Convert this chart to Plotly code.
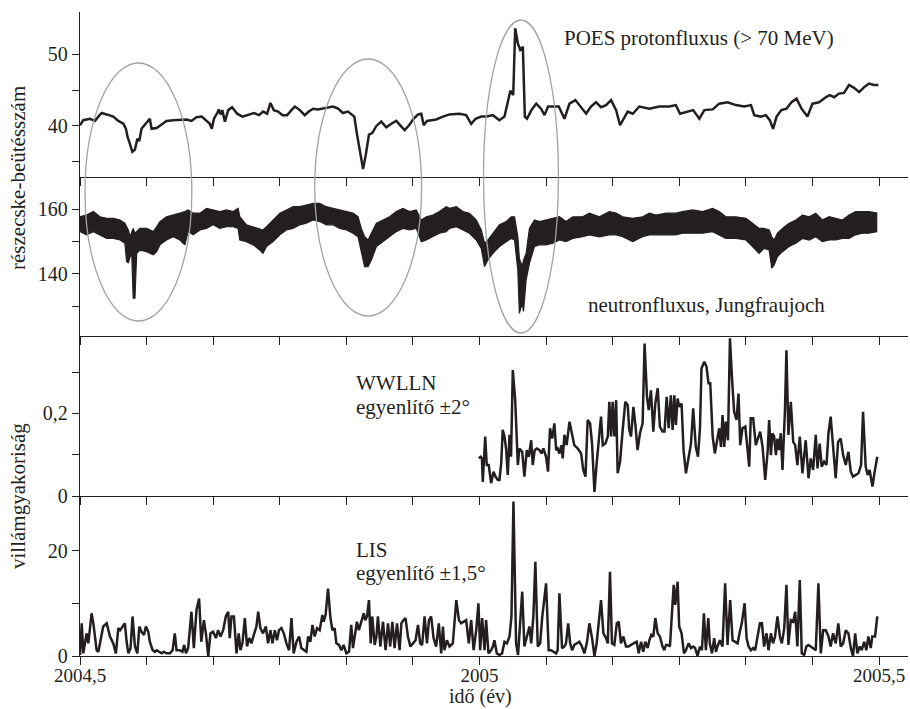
import plotly.graph_objects as go

# ---------------- data (days since 2004.5; values in panel units) ----------------
poes_day = [0, 1.5, 4.6, 6.8, 8.4, 9.9, 12.2, 15.2, 17.5, 19.8,
            21.0, 21.7, 22.8, 23.9, 25.1, 26.2, 27.1, 28.1, 29.7, 31.9,
            32.7, 35.0, 37.3, 39.5, 42.6, 45.6, 48.7, 50.9, 53.2, 55.6,
            57.8, 59.3, 60.2, 61.2, 62.7, 63.4, 64.2, 65.0, 66.2, 67.7,
            69.5, 71.8, 74.2, 76.8, 79.4, 81.8, 83.6, 85.5, 87.0, 88.5,
            90.5, 92.5, 94.6, 96.9, 98.2, 100.4, 102.7, 104.5, 106.5, 108.7,
            111.0, 113.3, 115.6, 117.9, 120.1, 122.4, 124.4, 125.3, 126.5, 128.1,
            129.3, 130.5, 132.0, 133.5, 135.4, 137.6, 139.9, 142.2, 144.5, 146.5,
            148.3, 150.3, 152.4, 154.4, 155.9, 157.0, 158.5, 160.5, 162.7, 165.8,
            168.8, 173.4, 176.4, 178.7, 180.7, 183.3, 185.8, 188.6, 191.6, 193.9,
            195.4, 196.6, 197.9, 198.8, 200.0, 201.1, 202.3, 203.2, 204.2, 206.2,
            208.4, 210.6, 212.2, 213.8, 216.3, 218.7, 221.3, 223.6, 226.3, 228.9,
            231.2, 233.4, 235.7, 238.0, 240.3, 242.6, 244.9, 246.7, 248.2, 250.2,
            252.5, 255.5, 260.1, 264.6, 269.2, 272.2, 274.1, 277.1, 280.1, 282.9,
            285.2, 289.0, 292.0, 295.8, 299.6, 303.4, 306.5, 308.0, 311.0, 313.3,
            315.1, 316.6, 318.2, 320.4, 322.7, 325.0, 327.3, 329.6, 332.3, 334.6,
            337.6, 340.7, 342.5, 344.5, 346.7, 349.0, 351.3, 353.6, 355.9, 358.2,
            360.4, 362.7, 364.7]
poes_val = [40.1, 40.8, 41.0, 40.7, 41.3, 41.8, 41.6, 41.3, 40.7, 40.3,
            39.6, 38.5, 37.5, 36.4, 36.7, 38.2, 37.9, 39.6, 40.2, 41.0,
            39.6, 39.7, 40.2, 40.7, 40.8, 40.9, 40.9, 40.7, 41.2, 41.3,
            40.7, 40.3, 39.6, 41.0, 41.8, 42.3, 41.6, 42.2, 40.6, 42.2,
            42.6, 41.7, 41.3, 41.6, 41.8, 41.5, 42.0, 41.7, 43.2, 42.2,
            42.0, 41.5, 41.5, 42.3, 42.7, 42.2, 41.5, 42.0, 42.4, 42.3,
            42.4, 42.6, 42.7, 42.4, 41.8, 42.0, 41.5, 41.3, 38.9, 36.4,
            34.0, 35.9, 38.8, 39.0, 40.0, 40.6, 39.8, 40.3, 40.7, 40.0,
            39.4, 40.1, 41.0, 41.6, 41.7, 40.1, 40.7, 40.8, 40.9, 41.3,
            41.6, 41.7, 41.5, 40.3, 41.0, 41.3, 41.3, 41.5, 40.8, 41.3,
            43.6, 44.9, 44.3, 53.6, 51.5, 50.6, 51.0, 41.3, 41.0, 42.2,
            43.1, 42.4, 41.5, 42.7, 42.7, 42.7, 41.0, 43.1, 43.6, 42.6,
            41.7, 42.7, 43.3, 42.6, 42.9, 43.6, 42.2, 40.1, 41.0, 42.0,
            41.7, 42.7, 42.4, 42.7, 42.7, 42.9, 41.7, 42.0, 42.2, 41.0,
            42.2, 42.3, 43.1, 43.3, 42.9, 42.7, 42.9, 41.5, 41.3, 41.5,
            40.8, 39.6, 41.3, 42.2, 42.4, 43.3, 43.8, 42.4, 41.3, 43.1,
            43.3, 44.0, 44.3, 44.0, 44.5, 44.6, 45.7, 45.3, 44.7, 45.4,
            45.9, 45.7, 45.7]

neut_day = [0.0, 3.0, 6.1, 9.1, 12.2, 15.2, 18.3, 20.5, 21.3, 22.1,
            22.8, 23.6, 24.3, 25.1, 25.9, 27.4, 30.4, 33.5, 35.0, 36.5,
            39.5, 42.6, 45.6, 47.9, 49.4, 51.7, 54.8, 57.8, 60.8, 63.9,
            66.9, 70.0, 72.2, 73.0, 76.0, 79.1, 82.1, 83.6, 85.2, 88.2,
            91.3, 94.3, 97.3, 100.4, 103.4, 106.5, 109.5, 112.5, 115.6, 118.6,
            121.7, 124.7, 127.0, 128.5, 130.0, 131.6, 133.1, 135.4, 138.4, 141.4,
            144.5, 147.5, 150.6, 153.6, 155.9, 158.2, 161.2, 164.2, 167.3, 168.8,
            171.9, 174.9, 177.9, 181.0, 183.3, 184.8, 186.3, 188.6, 191.6, 194.7,
            197.0, 198.5, 200.0, 200.7, 202.0, 202.6, 203.8, 205.3, 207.6, 209.9,
            212.9, 216.0, 219.0, 222.0, 225.1, 229.6, 232.7, 237.2, 241.8, 244.9,
            247.9, 252.5, 257.0, 260.1, 263.1, 267.7, 272.2, 275.3, 279.8, 284.4,
            289.0, 292.0, 295.0, 299.6, 304.2, 307.2, 310.2, 312.5, 314.8, 316.0,
            317.1, 318.6, 320.9, 323.9, 327.0, 330.0, 333.1, 336.1, 339.1, 342.2,
            345.2, 348.3, 351.3, 354.3, 357.4, 360.4, 364.2]
neut_upper = [157.7, 158.2, 159.3, 157.7, 157.2, 157.2, 156.7, 155.7, 154.6, 153.6,
              151.5, 153.1, 154.1, 152.6, 153.1, 154.1, 154.1, 153.1, 154.6, 156.2,
              157.7, 158.2, 158.8, 159.3, 159.8, 158.8, 158.8, 160.3, 159.8, 159.3,
              159.8, 159.3, 160.3, 157.7, 155.2, 154.6, 154.1, 153.6, 154.6, 156.7,
              158.8, 159.8, 160.8, 160.8, 161.3, 161.8, 161.8, 160.8, 160.3, 159.8,
              159.3, 158.8, 157.7, 154.1, 151.5, 150.5, 152.6, 155.7, 156.7, 157.7,
              159.3, 160.3, 159.3, 159.8, 156.7, 157.7, 158.2, 159.3, 160.8, 160.3,
              160.8, 159.3, 158.8, 156.7, 153.6, 149.5, 150.5, 152.6, 155.2, 156.2,
              157.7, 157.7, 151.5, 144.8, 142.3, 144.3, 146.4, 154.1, 156.7, 156.2,
              156.7, 157.2, 157.7, 156.2, 157.7, 157.7, 158.8, 157.7, 159.3, 158.8,
              157.7, 157.2, 157.7, 158.8, 158.2, 158.8, 158.8, 159.3, 159.8, 159.3,
              160.3, 159.3, 157.7, 157.7, 157.2, 155.7, 154.1, 154.1, 153.6, 151.5,
              150.5, 152.6, 154.1, 155.7, 156.7, 158.2, 157.7, 158.8, 156.7, 157.7,
              157.2, 156.7, 158.2, 159.3, 159.3, 159.3, 158.8]
neut_lower = [153.1, 152.1, 153.1, 152.1, 151.0, 151.0, 150.5, 149.5, 143.8, 143.5,
              145.4, 146.9, 132.5, 132.5, 146.4, 147.4, 146.9, 145.9, 146.9, 149.0,
              150.5, 151.5, 150.5, 149.0, 153.1, 152.1, 153.6, 154.1, 155.2, 154.1,
              154.6, 154.6, 154.1, 150.5, 150.0, 149.0, 147.4, 146.4, 148.5, 150.0,
              152.1, 153.6, 154.1, 155.2, 155.7, 156.7, 156.2, 155.2, 155.2, 154.1,
              153.6, 152.6, 151.5, 146.9, 142.3, 142.3, 144.3, 148.5, 150.0, 151.5,
              153.1, 154.1, 153.6, 154.1, 150.0, 150.5, 151.5, 152.6, 153.1, 154.1,
              154.6, 153.6, 152.6, 150.5, 147.9, 142.3, 144.3, 146.4, 148.5, 150.0,
              151.0, 150.5, 141.2, 127.8, 130.9, 128.4, 138.2, 143.3, 148.5, 149.0,
              149.0, 149.5, 150.5, 150.0, 151.0, 151.5, 152.1, 151.5, 152.1, 152.1,
              151.5, 150.0, 151.5, 152.1, 152.1, 152.1, 152.1, 152.6, 152.6, 152.6,
              153.1, 152.1, 151.0, 151.0, 150.5, 148.5, 146.4, 147.9, 147.4, 141.8,
              142.8, 145.4, 146.9, 148.5, 149.5, 151.0, 150.5, 151.5, 150.0, 150.5,
              150.5, 151.0, 151.0, 152.1, 152.6, 152.6, 153.1]

wwlln_day = [182.2, 183.0, 183.6, 184.0, 185.1, 185.8, 186.7, 187.8, 188.9, 189.8,
             190.9, 191.6, 192.4, 193.1, 193.9, 194.7, 195.4, 196.2, 196.9, 197.7,
             198.8, 200.0, 200.7, 202.0, 203.0, 204.1, 205.0, 206.1, 206.8, 207.7,
             208.7, 209.9, 210.8, 211.7, 212.9, 213.8, 214.7, 215.7, 216.7, 217.5,
             218.2, 219.0, 219.9, 220.5, 221.3, 222.3, 223.6, 224.8, 225.8, 227.4,
             228.9, 229.9, 230.9, 231.9, 233.0, 233.9, 235.0, 236.0, 236.9, 238.0,
             238.8, 240.0, 241.1, 241.8, 242.6, 243.3, 244.1, 244.9, 245.6, 246.7,
             247.9, 249.1, 250.2, 250.9, 251.7, 252.8, 253.7, 254.7, 255.8, 257.0,
             257.9, 259.0, 259.8, 260.8, 261.9, 262.8, 263.9, 264.9, 266.1, 267.0,
             268.0, 268.9, 269.9, 270.7, 271.5, 272.2, 273.0, 273.7, 274.8, 275.7,
             276.8, 277.9, 279.1, 280.1, 281.3, 282.3, 283.2, 283.9, 285.2, 286.2,
             287.1, 287.9, 289.0, 290.0, 290.9, 292.0, 292.8, 293.5, 294.3, 295.0,
             296.0, 296.9, 297.8, 298.8, 299.9, 300.8, 301.6, 302.6, 303.9, 304.9,
             305.7, 306.4, 307.5, 308.7, 309.8, 310.7, 311.8, 313.0, 314.1, 314.8,
             315.6, 316.3, 317.1, 317.9, 318.6, 319.4, 320.1, 320.9, 322.0, 322.7,
             323.6, 324.7, 325.8, 326.7, 327.7, 328.8, 330.0, 330.8, 331.5, 332.8,
             333.8, 334.9, 336.1, 336.9, 337.9, 338.8, 339.9, 341.0, 341.9, 342.9,
             344.0, 345.2, 346.3, 347.5, 348.6, 349.8, 351.0, 352.1, 353.1, 354.3,
             355.6, 356.8, 357.7, 358.9, 359.8, 360.7, 362.0, 363.0, 364.2]
wwlln_val = [0.091, 0.095, 0.091, 0.034, 0.144, 0.075, 0.075, 0.031, 0.059, 0.047,
             0.039, 0.039, 0.079, 0.160, 0.144, 0.111, 0.051, 0.148, 0.095, 0.305,
             0.232, 0.075, 0.115, 0.107, 0.047, 0.111, 0.095, 0.135, 0.075, 0.111,
             0.115, 0.111, 0.103, 0.115, 0.095, 0.059, 0.164, 0.139, 0.176, 0.111,
             0.115, 0.103, 0.123, 0.091, 0.148, 0.123, 0.180, 0.144, 0.123, 0.115,
             0.103, 0.063, 0.047, 0.184, 0.176, 0.127, 0.010, 0.079, 0.135, 0.192,
             0.123, 0.127, 0.144, 0.228, 0.144, 0.228, 0.144, 0.232, 0.055, 0.083,
             0.160, 0.228, 0.220, 0.160, 0.144, 0.216, 0.172, 0.111, 0.152, 0.176,
             0.369, 0.240, 0.208, 0.256, 0.156, 0.224, 0.261, 0.168, 0.156, 0.156,
             0.240, 0.164, 0.244, 0.160, 0.244, 0.172, 0.236, 0.216, 0.224, 0.111,
             0.055, 0.095, 0.127, 0.212, 0.119, 0.095, 0.164, 0.309, 0.325, 0.313,
             0.273, 0.273, 0.144, 0.103, 0.135, 0.164, 0.119, 0.196, 0.119, 0.180,
             0.135, 0.382, 0.289, 0.204, 0.184, 0.248, 0.123, 0.164, 0.168, 0.107,
             0.071, 0.188, 0.188, 0.123, 0.144, 0.156, 0.119, 0.039, 0.107, 0.184,
             0.099, 0.152, 0.144, 0.099, 0.139, 0.111, 0.152, 0.063, 0.204, 0.353,
             0.148, 0.228, 0.131, 0.123, 0.075, 0.144, 0.055, 0.095, 0.135, 0.043,
             0.091, 0.063, 0.148, 0.067, 0.127, 0.071, 0.083, 0.075, 0.152, 0.192,
             0.127, 0.043, 0.131, 0.139, 0.099, 0.075, 0.107, 0.059, 0.047, 0.051,
             0.055, 0.075, 0.204, 0.071, 0.051, 0.063, 0.023, 0.059, 0.095]

lis_day = [0.0, 0.8, 1.5, 2.3, 3.0, 3.8, 4.6, 5.3, 6.1, 6.8,
           7.6, 8.4, 9.1, 10.6, 12.2, 13.7, 15.2, 16.4, 17.5, 18.3,
           19.5, 20.5, 21.3, 22.1, 23.1, 24.0, 25.1, 26.2, 27.1, 28.1,
           29.2, 30.1, 31.2, 31.9, 33.2, 34.2, 35.0, 36.2, 37.3, 38.3,
           39.5, 41.1, 42.3, 43.3, 44.1, 45.6, 46.8, 47.6, 48.4, 49.4,
           50.9, 52.0, 53.2, 54.4, 55.4, 56.6, 57.5, 58.6, 59.6, 60.8,
           62.1, 63.1, 64.2, 65.4, 66.6, 67.7, 68.4, 69.2, 70.3, 71.5,
           72.5, 73.3, 74.2, 75.3, 76.3, 77.3, 78.3, 79.4, 80.6, 81.4,
           82.4, 83.6, 84.9, 85.9, 87.0, 87.9, 89.0, 90.0, 90.9, 92.0,
           93.1, 94.3, 95.5, 96.6, 97.6, 98.9, 100.1, 101.1, 102.2, 103.4,
           104.2, 105.2, 106.2, 107.2, 108.3, 109.5, 110.7, 111.3, 112.2, 113.3,
           114.4, 115.3, 116.3, 117.1, 118.3, 119.4, 120.4, 121.7, 122.9, 123.9,
           124.7, 125.5, 126.5, 127.4, 128.5, 129.6, 130.3, 131.1, 132.0, 132.8,
           133.5, 134.6, 135.4, 136.1, 137.2, 138.4, 139.6, 140.7, 141.7, 142.7,
           143.7, 144.8, 146.0, 146.8, 147.8, 148.7, 149.8, 150.9, 152.1, 153.3,
           154.4, 155.4, 156.3, 157.4, 158.5, 159.4, 160.4, 161.5, 162.7, 163.9,
           165.0, 165.8, 166.5, 167.6,
           168.8, 170.3, 171.9, 173.1, 174.1, 175.2, 176.4, 177.6, 178.7, 179.8,
           181.0, 182.0, 182.8, 183.7, 184.8, 185.5, 186.6, 187.8, 188.6, 189.3,
           190.4, 191.6, 192.8, 193.9, 195.0, 196.2, 197.1, 198.0, 199.2, 200.1,
           201.1, 202.0, 203.0, 204.1, 205.3, 206.1, 207.1, 208.0, 209.1, 210.2,
           211.1, 212.9, 214.1, 215.2, 216.3, 217.5, 218.2, 219.0, 220.2, 221.3,
           222.0, 223.0, 223.9, 224.8, 225.8, 226.9, 228.1, 229.3, 230.4, 231.5,
           232.7, 233.9, 235.0, 236.0, 237.2, 238.0, 239.1, 240.3, 241.1, 242.1,
           243.0, 244.1, 245.2, 246.1, 247.1, 248.2, 249.4, 250.6, 251.7, 253.2,
           254.3, 255.2, 256.3, 257.3, 258.2, 259.3, 260.1, 261.0, 261.9, 262.8,
           263.9, 264.9, 266.1, 266.9, 267.7, 268.6, 269.5, 270.4, 271.2, 271.9,
           273.0, 273.7, 274.8, 275.9, 276.8, 278.0, 279.1, 280.1, 281.0, 282.1,
           283.2, 284.1, 285.0, 285.9, 287.0, 287.7, 288.7, 289.7, 290.5, 291.2,
           292.3, 293.5, 294.7, 295.8, 297.0, 298.1, 299.3, 300.4, 301.4, 302.3,
           303.6, 304.5, 305.4, 306.5, 307.5, 308.4, 309.5, 310.6, 311.5, 312.5,
           313.6, 314.5, 315.6, 316.6, 317.5, 318.6, 319.7, 320.6, 321.7, 322.7,
           323.6, 324.7, 325.8, 326.7, 327.7, 328.8, 329.7, 330.8, 331.8, 332.7,
           333.8, 334.9, 336.1, 337.3, 338.4, 339.5, 340.7, 341.9, 342.9, 344.0,
           345.2, 346.4, 347.5, 348.6, 349.8, 351.0, 352.1, 353.1, 354.1, 355.1,
           356.2, 357.1, 358.2, 359.2, 360.1, 361.2, 361.9, 363.2, 364.2]
lis_val = [0.2, 6.2, 0.5, 2.4, 4.3, 2.4, 5.6, 8.1, 6.2, 3.7,
           1.1, 0.8, 2.4, 5.6, 6.2, 3.7, 2.4, 0.5, 5.3, 4.9,
           5.6, 6.2, 2.7, 0.5, 1.5, 7.5, 1.8, 0.5, 5.6, 4.6,
           4.0, 5.6, 4.6, 2.7, 1.1, 0.8, 1.1, 0.8, 0.5, 0.8,
           0.5, 0.5, 1.1, 4.3, 1.1, 1.1, 0.8, 2.1, 0.5, 1.5,
           8.4, 1.5, 8.7, 10.9, 2.7, 6.8, 4.3, 0.0, 4.3, 4.6,
           3.4, 4.9, 3.7, 4.9, 7.5, 8.4, 3.4, 7.5, 7.5, 0.5,
           4.3, 1.1, 2.4, 7.2, 1.8, 3.4, 2.4, 4.0, 5.6, 8.4,
           5.3, 4.3, 5.6, 2.4, 4.9, 2.4, 4.9, 3.0, 4.9, 5.3,
           4.3, 2.4, 1.1, 7.2, 0.5, 2.7, 3.7, 1.5, 1.1, 0.8,
           3.7, 2.7, 5.9, 3.7, 5.3, 4.9, 7.8, 6.5, 7.8, 12.8,
           7.2, 4.9, 5.3, 2.4, 2.1, 1.1, 2.1, 0.5, 0.8, 5.9,
           1.5, 4.0, 6.5, 4.9, 6.5, 8.1, 6.8, 7.5, 10.6, 2.4,
           7.5, 2.1, 3.7, 7.5, 1.8, 6.5, 1.1, 6.2, 1.8, 6.5,
           1.5, 6.2, 1.1, 6.2, 6.8, 7.2, 3.7, 1.8, 2.4, 3.0,
           5.9, 2.4, 2.1, 7.5, 2.4, 6.8, 7.5, 3.4, 1.8, 6.2,
           0.5, 5.6, 1.1, 3.0,
           1.8, 2.4, 10.6, 6.8, 6.2, 6.5, 6.8, 2.4, 6.8, 1.1,
           4.9, 10.0, 1.1, 7.2, 1.1, 6.8, 0.5, 1.1, 1.8, 3.0,
           0.5, 0.2, 0.5, 2.7, 2.4, 3.7, 7.5, 29.3, 2.4, 0.2,
           6.5, 12.2, 1.8, 3.4, 5.6, 2.4, 7.5, 17.9, 1.8, 2.4,
           7.2, 13.8, 1.1, 1.1, 0.8, 0.5, 1.1, 11.9, 1.5, 1.8,
           2.4, 6.2, 2.4, 1.1, 2.1, 2.4, 2.7, 1.8, 0.5, 2.4,
           6.2, 3.4, 0.0, 2.4, 8.1, 10.6, 4.3, 3.4, 2.4, 16.0,
           2.4, 2.1, 6.2, 6.5, 2.4, 3.7, 1.8, 1.8, 2.1, 2.4,
           2.7, 0.5, 2.7, 0.8, 2.7, 1.5, 3.0, 4.0, 3.7, 7.2,
           4.3, 3.7, 1.8, 1.1, 2.1, 2.1, 1.8, 8.1, 13.5, 9.7,
           14.1, 5.6, 4.3, 0.5, 1.1, 2.4, 1.5, 1.8, 1.5, 0.0,
           1.8, 1.1, 8.1, 1.1, 7.2, 2.4, 0.5, 3.4, 0.8, 1.8,
           3.0, 1.8, 13.8, 2.1, 10.6, 3.0, 2.7, 2.4, 4.6, 6.2,
           10.0, 3.4, 1.8, 1.1, 1.5, 1.1, 3.7, 6.2, 6.2, 1.8,
           4.3, 1.1, 4.3, 2.4, 3.7, 7.5, 3.7, 2.4, 5.3, 13.5,
           2.1, 6.8, 6.5, 8.4, 1.8, 14.4, 0.5, 0.2, 1.8, 2.1,
           1.8, 1.5, 1.1, 13.8, 0.5, 4.9, 4.9, 3.7, 1.8, 4.3,
           2.4, 6.2, 1.8, 2.4, 4.9, 4.3, 1.5, 0.0, 4.3, 0.5,
           1.8, 1.1, 2.7, 1.1, 3.7, 1.5, 3.7, 3.7, 7.5]

x_tick_labels = {2004.5: "2004,5", 2005.0: "2005", 2005.5: "2005,5"}

# ---------------- styling ----------------
INK = "#231f20"
FONT = "Liberation Serif"
W, H = 910, 709
ML, MR, MT, MB = 80, 2, 12, 53
PW, PH = W - ML - MR, H - MT - MB


def to_year(days):
    return [2004.5 + d / 365.0 for d in days]


def fx(px):
    return (px - ML) / PW


def fy(py):
    return (H - MB - py) / PH


fig = go.Figure()
line_style = dict(color=INK, width=2.5)
fig.add_trace(go.Scatter(x=to_year(poes_day), y=poes_val, mode="lines",
                         line=line_style, xaxis="x", yaxis="y"))
fig.add_trace(go.Scatter(x=to_year(neut_day), y=neut_lower, mode="lines",
                         line=dict(color=INK, width=1.2), xaxis="x2", yaxis="y2"))
fig.add_trace(go.Scatter(x=to_year(neut_day), y=neut_upper, mode="lines",
                         line=dict(color=INK, width=1.2), fill="tonexty",
                         fillcolor=INK, xaxis="x2", yaxis="y2"))
fig.add_trace(go.Scatter(x=to_year(wwlln_day), y=wwlln_val, mode="lines",
                         line=line_style, xaxis="x3", yaxis="y3"))
fig.add_trace(go.Scatter(x=to_year(lis_day), y=lis_val, mode="lines",
                         line=line_style, xaxis="x4", yaxis="y4"))

month_ticks = [2004.5 + k / 12 for k in range(13)]
tick_text = [x_tick_labels.get(round(t, 4), "") for t in month_ticks]
X_RANGE = [2004.5, 2005.5 + 29 / 800]

xbase = dict(range=X_RANGE, domain=[0, 1], showline=True, linecolor=INK, linewidth=1.3,
             ticks="outside", ticklen=8, tickwidth=1.3, tickcolor=INK,
             tickvals=month_ticks, showgrid=False, zeroline=False, automargin=False,
             tickfont=dict(family=FONT, size=20, color=INK))
ybase = dict(showline=True, linecolor=INK, linewidth=1.3, ticks="outside",
             ticklen=7, tickwidth=1.3, tickcolor=INK, showgrid=False, zeroline=False,
             automargin=False, tickfont=dict(family=FONT, size=20, color=INK))

b1, b2, b3 = fy(177), fy(336), fy(496)

layout = dict(
    width=W, height=H, margin=dict(l=ML, r=MR, t=MT, b=MB, autoexpand=False),
    paper_bgcolor="white", plot_bgcolor="white", showlegend=False,
    font=dict(family=FONT, color=INK),
    xaxis=dict(xbase, anchor="y", showticklabels=False),
    xaxis2=dict(xbase, anchor="y2", showticklabels=False),
    xaxis3=dict(xbase, anchor="y3", showticklabels=False),
    xaxis4=dict(xbase, anchor="y4", ticktext=tick_text, ticklabelstandoff=-6,
                tickfont=dict(family=FONT, size=19, color=INK)),
    yaxis=dict(ybase, anchor="x", domain=[b1, 1], range=[32.89, 55.86],
               tickvals=[35, 40, 45, 50], ticktext=["", "40", "", "50"]),
    yaxis2=dict(ybase, anchor="x2", domain=[b2, b1], range=[120.83, 169.98],
                tickvals=[130, 140, 150, 160], ticktext=["", "140", "", "160"]),
    yaxis3=dict(ybase, anchor="x3", domain=[b3, b2], range=[0, 0.3874],
                tickvals=[0, 0.1, 0.2, 0.3], ticktext=["0", "", "0,2", ""]),
    yaxis4=dict(ybase, anchor="x4", domain=[0, b3], range=[0, 30.36],
                tickvals=[0, 10, 20], ticktext=["0", "", "20"]),
)
fig.update_layout(**layout)

# ellipses marking the events
ellipse_spans = [(2004.50625, 2004.6400, 321, 63),
                 (2004.79375, 2004.9275, 316, 59),
                 (2005.00500, 2005.09875, 333, 20)]
for xa, xb, ya, yb in ellipse_spans:
    fig.add_shape(type="circle", xref="x", yref="paper", x0=xa, x1=xb,
                  y0=fy(ya), y1=fy(yb), line=dict(color="#a3a3a3", width=1.3))

ann = [
    ("POES protonfluxus (> 70 MeV)", 563, 38, "left", "middle", 0, 21),
    ("neutronfluxus, Jungfraujoch", 587, 305, "left", "middle", 0, 21),
    ("WWLLN", 355, 383, "left", "middle", 0, 21),
    ("egyenlítő ±2°", 355, 407, "left", "middle", 0, 21),
    ("LIS", 355, 550, "left", "middle", 0, 21),
    ("egyenlítő ±1,5°", 355, 573, "left", "middle", 0, 21),
    ("idő (év)", 480, 709, "center", "bottom", 0, 20),
    ("részecske-beütésszám", 18, 178, "center", "middle", -90, 21),
    ("villámgyakoriság", 18, 496, "center", "middle", -90, 21),
]
for text, px, py, xanc, yanc, ang, size in ann:
    fig.add_annotation(text=text, xref="paper", yref="paper", x=fx(px), y=fy(py),
                       xanchor=xanc, yanchor=yanc, showarrow=False, borderpad=0,
                       textangle=ang, font=dict(family=FONT, size=size, color=INK))

fig.write_html("out.html", config={"displayModeBar": False},
               post_script="document.body.style.margin='0';"
                           "document.body.style.overflow='hidden';")
